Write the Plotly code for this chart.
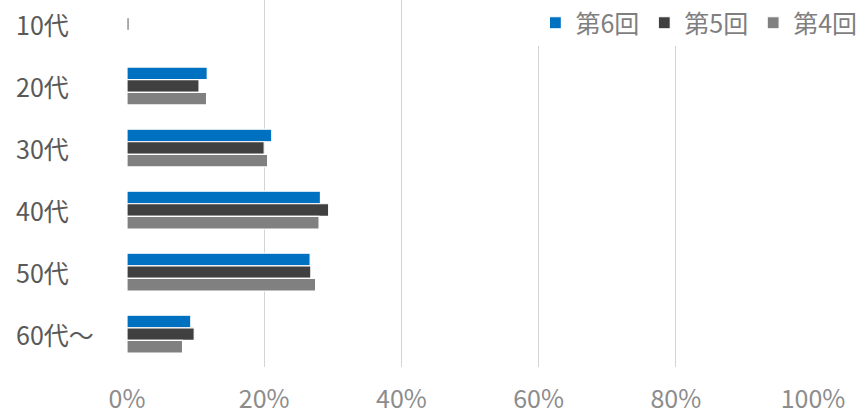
import plotly.graph_objects as go

categories = ["10代", "20代", "30代", "40代", "50代", "60代～"]
series_names = ["第6回", "第5回", "第4回"]
values_6 = [0.0, 11.7, 21.1, 28.2, 26.7, 9.3]
values_5 = [0.3, 10.5, 20.0, 29.4, 26.8, 9.8]
values_4 = [0.0, 11.6, 20.5, 28.0, 27.5, 8.1]
colors = ["#0070C0", "#404040", "#808080"]
x_ticks = [0, 20, 40, 60, 80, 100]

FONT = "Noto Sans CJK JP, Noto Sans, sans-serif"
positions = list(range(len(categories)))

fig = go.Figure()
for name, vals, col in zip(series_names, [values_6, values_5, values_4], colors):
    fig.add_trace(go.Bar(
        x=vals,
        y=positions,
        name=name,
        orientation="h",
        marker=dict(color=col, line=dict(color="white", width=1.2)),
    ))

# category labels, left aligned like the original
for i, cat in enumerate(categories):
    fig.add_annotation(
        x=-113 / 686, xref="paper", xanchor="left",
        y=i, yref="y",
        text=cat, showarrow=False,
        font=dict(family=FONT, size=25, color="#595959"),
    )

fig.update_layout(
    width=863, height=416,
    margin=dict(l=127, r=50, t=0, b=49, autoexpand=False),
    plot_bgcolor="white",
    paper_bgcolor="white",
    barmode="group",
    bargap=0.39,
    bargroupgap=0,
    font=dict(family=FONT),
    legend=dict(
        orientation="h",
        x=1.072, xanchor="right",
        y=1.0, yanchor="top",
        bgcolor="white",
        font=dict(family=FONT, size=25, color="#7f7f7f"),
        itemwidth=30,
        traceorder="normal",
    ),
    xaxis=dict(
        range=[0, 100],
        tickvals=x_ticks,
        ticktext=[f"{t}%" for t in x_ticks],
        showgrid=True, gridcolor="#d4d4d4", gridwidth=1,
        zeroline=False,
        showline=False,
        ticks="",
        automargin=False,
        ticklabelstandoff=15,
        tickfont=dict(family=FONT, size=25, color="#8c8c8c"),
    ),
    yaxis=dict(
        range=[5.53, -0.387],
        showticklabels=False,
        showgrid=False,
        zeroline=False,
        showline=False,
        ticks="",
        automargin=False,
    ),
)

fig.write_html("out.html", config={"displayModeBar": False},
               post_script="document.body.style.margin = '0';")
